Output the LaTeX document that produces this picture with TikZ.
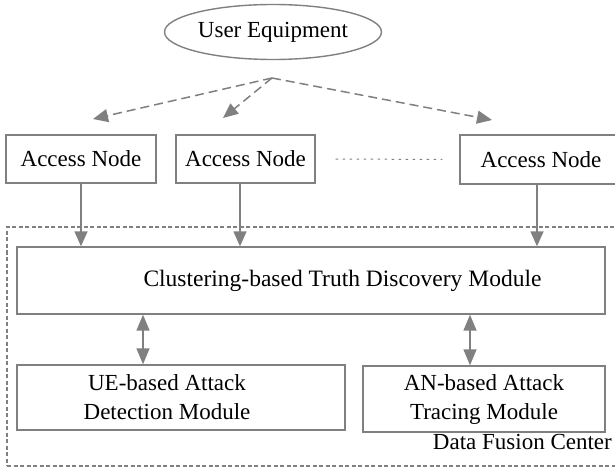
\documentclass[tikz,border=0pt]{standalone}
\usepackage{fontspec}
\setmainfont{Liberation Serif}
\usetikzlibrary{arrows.meta,shapes.geometric,calc}
\definecolor{lg}{HTML}{808080}
\begin{document}
\begin{tikzpicture}[x=1pt,y=-1pt,
  every node/.style={font=\fontsize{23}{29}\selectfont, text=black},
  box/.style={draw=lg, line width=1.4pt, rectangle, inner sep=0pt, align=center},
  txt/.style={inner sep=0pt, align=center},
  conn/.style={draw=lg, line width=1.5pt, -{Triangle[length=15pt,width=13pt]}},
  dconn/.style={conn, dash pattern=on 9pt off 5pt},
  dbl/.style={draw=lg, line width=1.5pt, {Triangle[length=16pt,width=13pt]}-{Triangle[length=16pt,width=13pt]}},
  dfcbox/.style={draw=lg, line width=1.2pt, dash pattern=on 4pt off 2.5pt, rectangle, inner sep=0pt},
]
\clip (0,0) rectangle (615,468);
\fill[white] (0,0) rectangle (615,468);

% top
\node[box, ellipse, minimum width=217pt, minimum height=55pt] (ue) at (273,32) {User Equipment};

\node[box, minimum width=150pt, minimum height=48pt] (an1) at (81,159) {Access Node};
\node[box, minimum width=139pt, minimum height=48pt] (an2) at (245.5,159) {Access Node};
\node[box, minimum width=162pt, minimum height=49pt] (an3) at (541,159.5) {Access Node};

\draw[lg, line width=1pt, dash pattern=on 2.5pt off 4.5pt] ([xshift=20pt]an2.east) -- ([xshift=-17pt]an3.west);

% data fusion center
\node[dfcbox, minimum width=613pt, minimum height=239pt] (dfc) at (313.5,346.5) {};
\node[txt, anchor=east] (dfcl) at (612,442) {Data Fusion Center};

\node[box, minimum width=588pt, minimum height=67pt] (clu) at (311,280.5) {};
\node[txt, font=\fontsize{23.5}{29}\selectfont] (clut) at (342.5,280.5) {Clustering-based Truth Discovery Module};

\node[box, minimum width=328pt, minimum height=65pt] (ued) at (181,397.5) {};
\node[txt] (uedt) at (167,397.5) {UE-based Attack\\Detection Module};

\node[box, minimum width=242pt, minimum height=66pt] (ant) at (484,399) {AN-based Attack\\Tracing Module};

% dashed arrows from UE
\coordinate (src) at (272,78);
\coordinate (t1) at (93,119);
\coordinate (t2) at (223,118);
\coordinate (t3) at (492,120);
\draw[dconn] (src) -- (t1);
\draw[dconn] (src) -- (t2);
\draw[dconn] (src) -- (t3);

% access node arrows
\coordinate (x1) at (81,0);
\coordinate (x2) at (240,0);
\coordinate (x3) at (537,0);
\draw[conn] (an1.south -| x1) -- (clu.north -| x1);
\draw[conn] (an2.south -| x2) -- (clu.north -| x2);
\draw[conn] (an3.south -| x3) -- (clu.north -| x3);

% double arrows
\coordinate (x4) at (143,0);
\coordinate (x5) at (470,0);
\draw[dbl] (clu.south -| x4) -- (ued.north -| x4);
\draw[dbl] (clu.south -| x5) -- (ant.north -| x5);
\end{tikzpicture}
\end{document}
